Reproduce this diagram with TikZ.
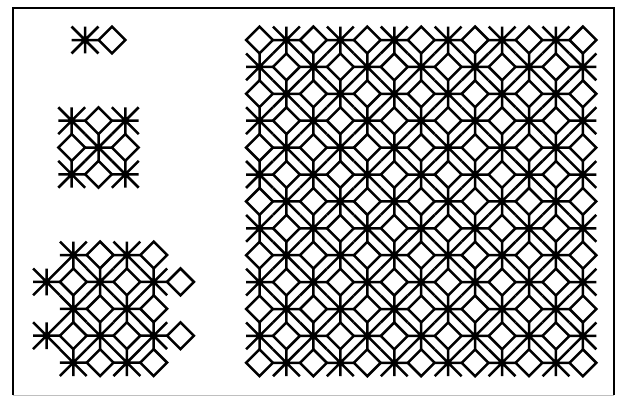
\documentclass[tikz,border=0pt]{standalone}
\begin{document}
\begin{tikzpicture}[x=1pt,y=-1pt,
  pat/.style={line width=2.5pt,line join=miter,line cap=butt},
  frameline/.style={line width=1.8pt},
  astar/.pic={\draw[pat] (-13.4,0)--(13.4,0) (0,-13.4)--(0,13.4)
      (-13.4,-13.4)--(13.4,13.4) (-13.4,13.4)--(13.4,-13.4);
      \fill (0,0) circle (2.2);},
  dmd/.pic={\draw[pat] (-13.4,0)--(0,-13.4)--(13.4,0)--(0,13.4)--cycle;}]
\useasboundingbox (0,0) rectangle (620,397);
% frame
\draw[frameline] (13,395)--(13,8)--(614,8)--(614,395);
\draw[line width=1pt,black!25] (13,395)--(614,395);
% single unit
\pic at (85,40) {astar};
\pic at (112,40) {dmd};
% 3x3 group
\foreach \c/\r in {-1/-1,1/-1,0/0,-1/1,1/1}
  \pic at (98.5+26.8*\c,147.5+26.8*\r) {astar};
\foreach \c/\r in {0/-1,-1/0,1/0,0/1}
  \pic at (98.5+26.8*\c,147.5+26.8*\r) {dmd};
% bottom-left group
\foreach \c/\r in {1/0,3/0,0/1,2/1,4/1,1/2,3/2,0/3,2/3,4/3,1/4,3/4}
  \pic at (46.5+26.8*\c,255+26.9*\r) {astar};
\foreach \c/\r in {2/0,4/0,1/1,3/1,5/1,2/2,4/2,1/3,3/3,5/3,2/4,4/4}
  \pic at (46.5+26.8*\c,255+26.9*\r) {dmd};
% big field
\foreach \r in {0,...,12}
  \foreach \c in {0,...,12}{
    \pgfmathtruncatemacro\pty{mod(\r+\c,2)}
    \ifnum\pty=0
      \pic at (259.5+26.95*\c,40+26.9*\r) {dmd};
    \else
      \pic at (259.5+26.95*\c,40+26.9*\r) {astar};
    \fi
  }
\end{tikzpicture}
\end{document}
